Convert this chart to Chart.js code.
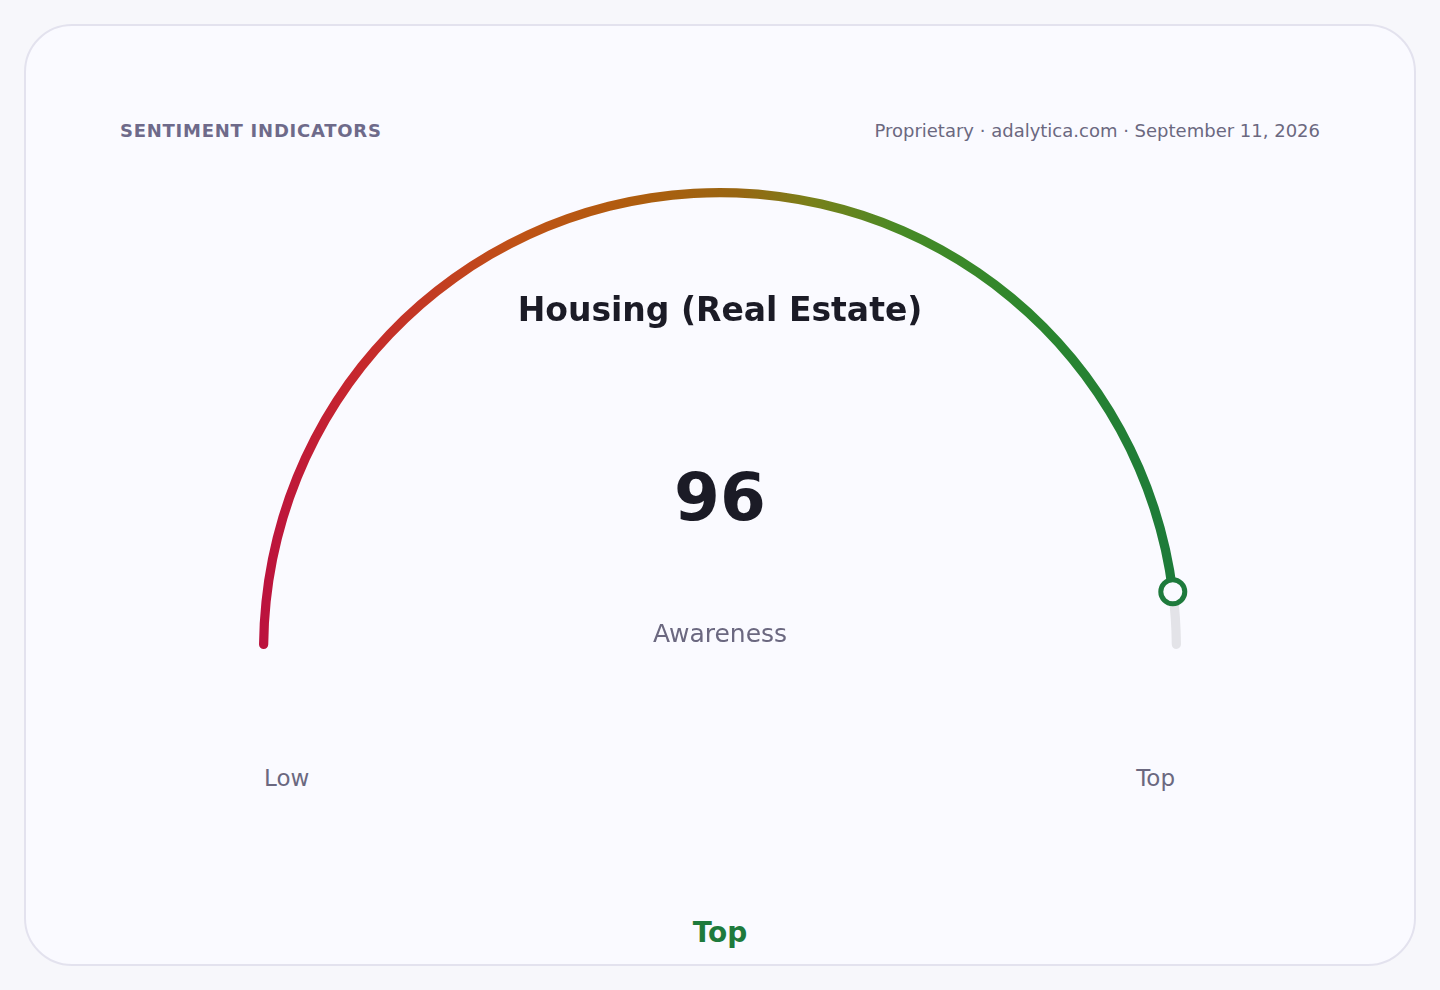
<!DOCTYPE html>
<html>
<head>
<meta charset="utf-8">
<script src="https://cdn.jsdelivr.net/npm/chart.js@4/dist/chart.umd.min.js"></script>
<style>
  html, body { margin: 0; padding: 0; }
  body { width: 1440px; height: 990px; background: #f7f7fb; position: relative; overflow: hidden;
         font-family: "DejaVu Sans", sans-serif; }
  .card { position: absolute; left: 24px; top: 24px; width: 1388px; height: 938px;
          background: #fafaff; border: 2px solid #e3e2ee; border-radius: 48px; }
  .t { position: absolute; line-height: 1; white-space: nowrap; }
  #gauge { position: absolute; left: 240px; top: 151px; }
</style>
</head>
<body>
<div class="card"></div>
<div class="t" style="left:120px; top:122px; font-size:18px; font-weight:bold; color:#6e6a8a; letter-spacing:0.75px;">SENTIMENT INDICATORS</div>
<div class="t" style="right:120px; top:122px; font-size:18px; color:#6b6880;">Proprietary · adalytica.com · September 11, 2026</div>
<canvas id="gauge" width="960" height="535"></canvas>
<div class="t" style="left:0; width:1440px; text-align:center; top:293px; font-size:33px; font-weight:bold; color:#1b1b26;">Housing (Real Estate)</div>
<div class="t" style="left:0; width:1440px; text-align:center; top:465px; font-size:66px; font-weight:bold; color:#1b1b26;">96</div>
<div class="t" style="left:0; width:1440px; text-align:center; top:621px; font-size:25px; color:#6b6880;">Awareness</div>
<div class="t" style="left:264px; top:767px; font-size:23px; color:#6b6880;">Low</div>
<div class="t" style="right:265px; top:767px; font-size:23px; color:#6b6880;">Top</div>
<div class="t" style="left:0; width:1440px; text-align:center; top:919px; font-size:28px; font-weight:bold; color:#1e7a3c;">Top</div>
<script>
// gauge data
var gaugeLabels = ['Awareness', 'Remaining'];
var gaugeValue = 96;
var gaugeMax = 100;
var gaugeValues = [gaugeValue, gaugeMax - gaugeValue];

var RADIUS = 461;

function arcGradient(chart) {
  var area = chart.chartArea;
  if (!area) return '#be123c';
  var mid = (area.left + area.right) / 2;
  var g = chart.ctx.createLinearGradient(mid - RADIUS, 0, mid + RADIUS, 0);
  g.addColorStop(0, '#bb123e');
  g.addColorStop(0.1, '#c6262e');
  g.addColorStop(0.28, '#bf5216');
  g.addColorStop(0.4, '#b05c0e');
  g.addColorStop(0.52, '#986612');
  g.addColorStop(0.6, '#78801a');
  g.addColorStop(0.7, '#468a26');
  g.addColorStop(0.84, '#2c862e');
  g.addColorStop(1, '#1c7a3a');
  return g;
}

var markerPlugin = {
  id: 'marker',
  afterDatasetsDraw: function (chart) {
    var arc = chart.getDatasetMeta(0).data[0];
    var p = arc.getProps(['x', 'y', 'endAngle', 'innerRadius', 'outerRadius'], true);
    var r = (p.innerRadius + p.outerRadius) / 2;
    var mx = p.x + Math.cos(p.endAngle) * r;
    var my = p.y + Math.sin(p.endAngle) * r;
    var c = chart.ctx;
    c.save();
    c.beginPath();
    c.arc(mx, my, 12, 0, Math.PI * 2);
    c.fillStyle = '#fafaff';
    c.fill();
    c.lineWidth = 5;
    c.strokeStyle = '#1e7a3c';
    c.stroke();
    c.restore();
  }
};

window.onload = function () {
  var ctx = document.getElementById('gauge').getContext('2d');
  new Chart(ctx, {
    type: 'doughnut',
    data: {
      labels: gaugeLabels,
      datasets: [{
        data: gaugeValues,
        backgroundColor: function (context) {
          return context.dataIndex === 0 ? arcGradient(context.chart) : '#e3e3e8';
        },
        borderWidth: 0,
        borderRadius: function (context) {
          return context.dataIndex === 0
            ? { outerStart: 4.6, innerStart: 4.6, outerEnd: 0, innerEnd: 0 }
            : { outerStart: 0, innerStart: 0, outerEnd: 4.6, innerEnd: 4.6 };
        }
      }]
    },
    options: {
      responsive: false,
      animation: false,
      rotation: -90,
      circumference: 180,
      radius: RADIUS,
      cutout: '98%',
      layout: { padding: 0 },
      plugins: {
        legend: { display: false },
        tooltip: { enabled: false }
      }
    },
    plugins: [markerPlugin]
  });
};
</script>
</body>
</html>
